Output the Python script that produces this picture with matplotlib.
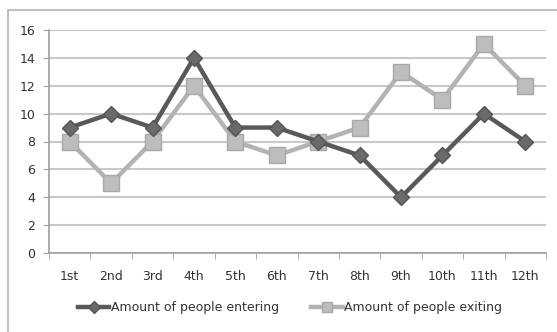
import matplotlib
matplotlib.use("Agg")
import matplotlib.pyplot as plt
from matplotlib.patches import Rectangle
from matplotlib.lines import Line2D

categories = ["1st", "2nd", "3rd", "4th", "5th", "6th", "7th", "8th", "9th", "10th", "11th", "12th"]
entering = [9, 10, 9, 14, 9, 9, 8, 7, 4, 7, 10, 8]
exiting = [8, 5, 8, 12, 8, 7, 8, 9, 13, 11, 15, 12]
yticks = [0, 2, 4, 6, 8, 10, 12, 14, 16]

W, H = 557, 332
fig = plt.figure(figsize=(W / 100, H / 100), dpi=100)
fig.patch.set_facecolor("white")

# outer frame
fig.patches.append(Rectangle((8 / W, -0.1), 1.2, (H - 10) / H + 0.1, transform=fig.transFigure,
                             fill=False, edgecolor="#c0c0c0", linewidth=1.5))

ax = fig.add_axes([49 / W, 1 - 253 / H, (546 - 49) / W, (253 - 30) / H])
x = list(range(len(categories)))

dark = "#595959"
light = "#b3b3b3"
ax.plot(x, exiting, color=light, linewidth=3.2, marker="s", markersize=11,
        markerfacecolor="#bdbdbd", markeredgecolor="#a8a8a8", zorder=3)
ax.plot(x, entering, color=dark, linewidth=3.2, marker="D", markersize=8,
        markerfacecolor="#6a6a6a", markeredgecolor="#555555", zorder=4)

ax.set_xlim(-0.5, len(categories) - 0.5)
ax.set_ylim(0, 16)
ax.set_yticks(yticks)
ax.set_yticklabels([str(v) for v in yticks])
ax.set_xticks(x)
ax.set_xticklabels(categories)
ax.yaxis.grid(True, color="#c8c8c8", linewidth=1.5)
ax.set_axisbelow(True)
for s in ["top", "right"]:
    ax.spines[s].set_visible(False)
ax.spines["left"].set_color("#a0a0a0")
ax.spines["bottom"].set_color("#a0a0a0")
ax.spines["left"].set_linewidth(1.2)
ax.spines["bottom"].set_linewidth(1.2)
ax.tick_params(axis="y", length=4, color="#a0a0a0", labelsize=9, labelcolor="#333333", pad=6)
ax.tick_params(axis="x", length=0, labelsize=9, labelcolor="#333333", pad=12)
ax.set_xticks([i + 0.5 for i in range(-1, len(categories))], minor=True)
ax.tick_params(axis="x", which="minor", length=4, color="#a0a0a0")

handles = [
    Line2D([], [], color=dark, linewidth=3.2, marker="D", markersize=6,
           markerfacecolor="#6a6a6a", markeredgecolor="#555555"),
    Line2D([], [], color=light, linewidth=3.2, marker="s", markersize=7,
           markerfacecolor="#bdbdbd", markeredgecolor="#a8a8a8"),
]
fig.legend(handles, ["Amount of people entering", "Amount of people exiting"],
           loc="center", bbox_to_anchor=(290 / W, 1 - 308 / H), ncol=2, frameon=False,
           fontsize=9, handlelength=2.5, handletextpad=0.1, columnspacing=2.6,
           labelcolor="#333333")

fig.savefig("out.png", dpi=100, facecolor="white")
